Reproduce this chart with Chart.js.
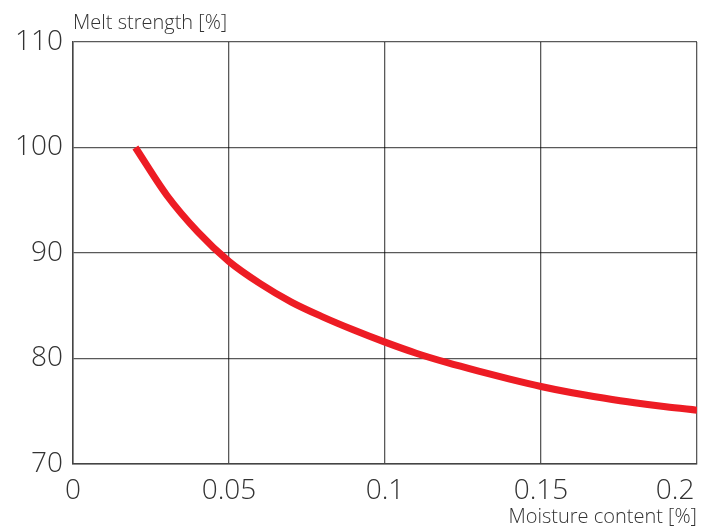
<!DOCTYPE html>
<html>
<head>
<meta charset="utf-8">
<script src="https://cdn.jsdelivr.net/npm/chart.js@4/dist/chart.umd.min.js"></script>
<style>
  html, body { margin: 0; padding: 0; background: #fff; }
  #wrap { width: 710px; height: 529px; }
</style>
</head>
<body>
<div id="wrap"><canvas id="chart"></canvas></div>
<script>
// values
const moisture = [0.02, 0.03, 0.04, 0.05, 0.06, 0.07, 0.08, 0.09, 0.10, 0.11,
                  0.12, 0.13, 0.14, 0.15, 0.16, 0.17, 0.18, 0.19, 0.20];
const meltStrength = [100, 95.5, 92.0, 89.2, 87.1, 85.35, 83.95, 82.7, 81.55, 80.5,
                      79.6, 78.8, 78.05, 77.35, 76.75, 76.25, 75.8, 75.42, 75.1];
const xTickLabels = ['0', '0.05', '0.1', '0.15', '0.2'];
const yTickLabels = ['70', '80', '90', '100', '110'];

const FONT = "'Open Sans', sans-serif";
const textColor = '#333';
const gridColor = 'rgba(0,0,0,0.65)';

const canvas = document.getElementById('chart');
new Chart(canvas, {
  type: 'line',
  data: {
    datasets: [{
      data: moisture.map((x, i) => ({ x, y: meltStrength[i] })),
      borderColor: '#ed1c24',
      borderWidth: 7,
      borderCapStyle: 'butt',
      pointRadius: 0,
      cubicInterpolationMode: 'monotone',
      fill: false
    }]
  },
  options: {
    responsive: true,
    maintainAspectRatio: false,
    animation: false,
    layout: { padding: { left: 0, right: 13, top: 0, bottom: 0 } },
    plugins: {
      legend: { display: false },
      tooltip: { enabled: false },
      title: {
        display: true,
        text: 'Melt strength [%]',
        align: 'start',
        fullSize: false,
        color: textColor,
        font: { family: FONT, size: 20, weight: '300', lineHeight: 1.2 },
        padding: { top: 11, bottom: 7 }
      },
      subtitle: {
        display: true,
        text: 'Moisture content [%]',
        position: 'bottom',
        align: 'end',
        fullSize: false,
        color: textColor,
        font: { family: FONT, size: 20, weight: '300', lineHeight: 1.2 },
        padding: { top: 0, bottom: 0 }
      }
    },
    scales: {
      x: {
        type: 'linear',
        min: 0,
        max: 0.2,
        z: 1,
        afterFit: s => { s.height = 41; s.paddingLeft = 0; s.paddingRight = 0; },
        grid: { color: gridColor, lineWidth: 1.3, drawTicks: false },
        border: { display: true, color: '#444', width: 1.5 },
        ticks: {
          stepSize: 0.05,
          autoSkip: false,
          maxRotation: 0,
          padding: 10,
          color: textColor,
          font: { family: FONT, size: 28, weight: '300' },
          callback: (v, i, ticks) => i === ticks.length - 1
            ? xTickLabels[i] + '\u00a0\u00a0\u00a0\u00a0\u00a0\u00a0'
            : xTickLabels[i]
        }
      },
      y: {
        min: 70,
        max: 110,
        z: 1,
        afterFit: s => { s.width = 73; },
        grid: { color: gridColor, lineWidth: 1.3, drawTicks: false },
        border: { display: true, color: '#444', width: 1.5 },
        ticks: {
          stepSize: 10,
          padding: 10,
          color: textColor,
          font: { family: FONT, size: 28, weight: '300' },
          callback: (v, i) => yTickLabels[i]
        }
      }
    }
  }
});
</script>
</body>
</html>
